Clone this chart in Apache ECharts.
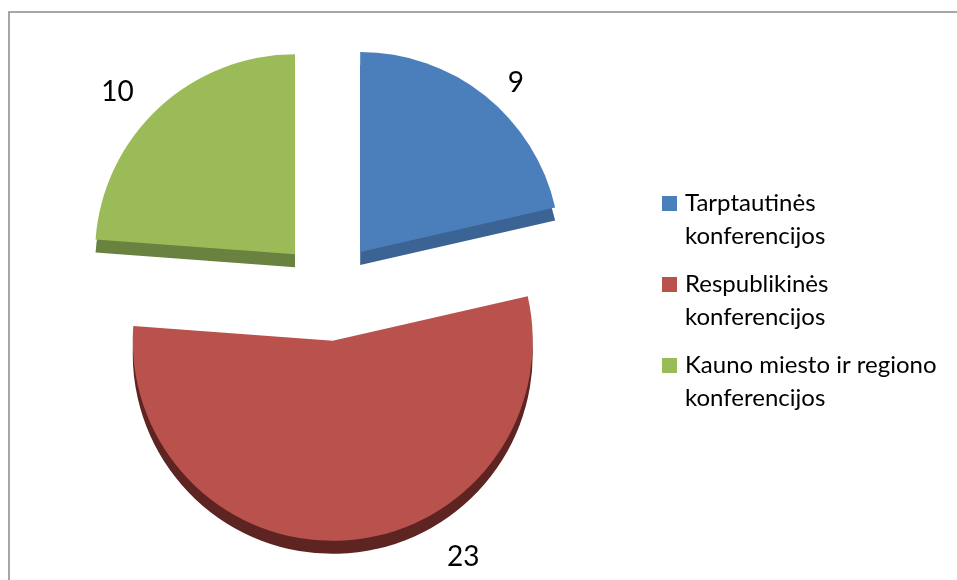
<!DOCTYPE html>
<html>
<head>
<meta charset="utf-8">
<script src="https://cdn.jsdelivr.net/npm/echarts@6/dist/echarts.min.js"></script>
<style>
  html, body { margin: 0; padding: 0; background: #fff; }
  #chart { width: 957px; height: 580px; }
</style>
</head>
<body>
<div id="chart"></div>
<script>
// konferencijų skaičius pagal tipą
var names = ['Tarptautinės konferencijos', 'Respublikinės konferencijos', 'Kauno miesto ir regiono konferencijos'];
var values = [9, 23, 10];
var legendLabels = ['Tarptautinės\nkonferencijos', 'Respublikinės\nkonferencijos', 'Kauno miesto ir regiono\nkonferencijos'];

var faceColors = ['#4b7fbb', '#b9514d', '#9bbb59'];
var sideColors = ['#3b6393', '#5e2422', '#6a8240'];

// label distances per slice (Excel puts them a bit differently)
var lineLen = [16, 17, 21];
var lineLen2 = [8, 93, 6];

var center = [329, 291];
var radius = 200;
var depth = 13;

var topData = values.map(function (v, i) {
  return {
    value: v,
    name: names[i],
    selected: true,
    itemStyle: { color: faceColors[i] },
    labelLine: { show: false, length: lineLen[i], length2: lineLen2[i] }
  };
});
var sideData = values.map(function (v, i) {
  return {
    value: v,
    name: names[i],
    selected: true,
    itemStyle: { color: sideColors[i] }
  };
});

var option = {
  animation: false,
  graphic: [{
    type: 'rect',
    shape: { x: 9, y: 12, width: 1200, height: 1000 },
    style: { fill: 'none', stroke: '#8a8a8a', lineWidth: 1.5 },
    silent: true
  }],
  legend: {
    orient: 'vertical',
    left: 657,
    top: 182,
    itemGap: 15,
    itemWidth: 18,
    itemHeight: 66,
    icon: 'path://M0,0M0,9h15v15h-15zM18,66',
    data: names,
    formatter: function (name) {
      return legendLabels[names.indexOf(name)];
    },
    textStyle: {
      fontFamily: 'Lato',
      fontSize: 24,
      lineHeight: 33,
      color: '#000'
    },
    selectedMode: false
  },
  series: [{
    name: 'konferencijos',
    type: 'pie',
    center: center,
    radius: radius,
    startAngle: 90,
    clockwise: true,
    selectedMode: 'multiple',
    selectedOffset: 50,
    avoidLabelOverlap: false,
    z: 3,
    label: {
      show: true,
      position: 'outside',
      formatter: '{c}',
      fontFamily: 'Lato',
      fontSize: 28,
      color: '#000'
    },
    emphasis: { disabled: true },
    data: topData
  }, {
    name: 'sonas',
    type: 'pie',
    center: [center[0], center[1] + depth],
    radius: radius,
    startAngle: 90,
    clockwise: true,
    selectedMode: 'multiple',
    selectedOffset: 50,
    silent: true,
    z: 1,
    label: { show: false },
    labelLine: { show: false },
    emphasis: { disabled: true },
    data: sideData
  }]
};

var myChart = echarts.init(document.getElementById('chart'));
myChart.setOption(option);
</script>
</body>
</html>
